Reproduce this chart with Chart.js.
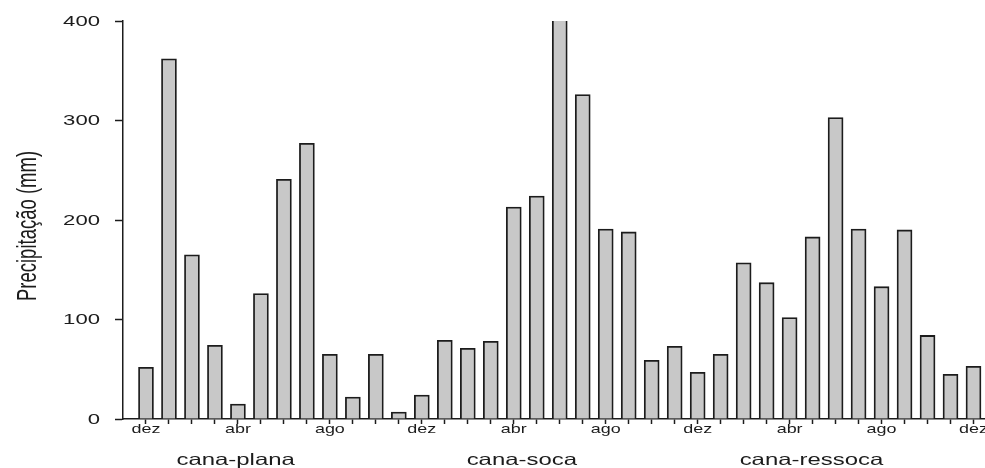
<!DOCTYPE html>
<html lang="pt">
<head>
<meta charset="UTF-8">
<title>Precipitação mensal</title>
<script src="https://cdn.jsdelivr.net/npm/chart.js"></script>
<style>
    html, body { margin: 0; padding: 0; background: #fff; }
    #wrap { width: 985px; height: 468px; position: relative; }
</style>
</head>
<body>
<div id="wrap">
    <canvas id="chart"></canvas>
</div>

<script>
    // monthly rainfall (mm), Dec to Dec over three seasons
    const months = [
        'dez', 'jan', 'fev', 'mar', 'abr', 'mai', 'jun', 'jul', 'ago', 'set', 'out', 'nov',
        'dez', 'jan', 'fev', 'mar', 'abr', 'mai', 'jun', 'jul', 'ago', 'set', 'out', 'nov',
        'dez', 'jan', 'fev', 'mar', 'abr', 'mai', 'jun', 'jul', 'ago', 'set', 'out', 'nov',
        'dez'
    ];
    const shownMonths = ['dez', 'abr', 'ago'];
    const precip = [
        52, 362, 165, 74, 15, 126, 241, 277, 65, 22, 65, 7,
        24, 79, 71, 78, 213, 224, 430, 326, 191, 188, 59, 73,
        47, 65, 157, 137, 102, 183, 303, 191, 133, 190, 84, 45,
        53
    ];
    const groups = ['cana-plana', 'cana-soca', 'cana-ressoca'];
    const yTitle = 'Precipitação (mm)';

    const ink = '#1c1c1c';
    const font = '"Liberation Sans", Arial, sans-serif';

    // the original figure is stretched sideways, so text is drawn with a horizontal scale
    function drawText(ctx, text, px, py, size, sx, align, baseline, rotate) {
        ctx.save();
        ctx.translate(px, py);
        if (rotate) {
            ctx.rotate(-Math.PI / 2);
            ctx.scale(1, sx);
        } else {
            ctx.scale(sx, 1);
        }
        ctx.font = size + 'px ' + font;
        ctx.textAlign = align;
        ctx.textBaseline = baseline;
        ctx.fillText(text, 0, 0);
        ctx.restore();
    }

    const stretchedLabels = {
        id: 'stretchedLabels',
        afterDraw(chart, args, opts) {
            const ctx = chart.ctx;
            const xs = chart.scales.x;
            const ys = chart.scales.y;
            ctx.save();
            ctx.fillStyle = ink;

            ys.ticks.forEach(t => {
                drawText(ctx, String(t.value), ys.right - 23, ys.getPixelForValue(t.value) + 1, 14, 1.58, 'right', 'middle');
            });

            months.forEach((m, i) => {
                if (shownMonths.includes(m)) {
                    drawText(ctx, m, xs.getPixelForValue(i), 433, 13, 1.38, 'center', 'alphabetic');
                }
            });

            groups.forEach((g, i) => {
                drawText(ctx, g, xs.getPixelForValue(opts.groupAt[i]), 465, 16.5, 1.45, 'center', 'alphabetic');
            });

            drawText(ctx, yTitle, 36, 226, 18.5, 1.5, 'center', 'alphabetic', true);
            ctx.restore();
        }
    };

    const ctx = document.getElementById('chart');

    new Chart(ctx, {
        type: 'bar',
        data: {
            datasets: [{
                data: precip.map((v, i) => ({x: i, y: v})),
                backgroundColor: '#c8c8c8',
                borderColor: ink,
                borderWidth: 1.8,
                barThickness: 15,
                clip: 0
            }]
        },
        options: {
            responsive: true,
            maintainAspectRatio: false,
            animation: false,
            layout: {
                padding: {left: 115, top: 21, right: 0, bottom: 44}
            },
            plugins: {
                legend: {display: false},
                tooltip: {enabled: false},
                stretchedLabels: {groupAt: [3.9, 16.35, 28.95]}
            },
            scales: {
                x: {
                    type: 'linear',
                    offset: false,
                    min: -1,
                    max: 36.5,
                    afterBuildTicks: s => {
                        s.ticks = months.map((m, i) => ({value: i}));
                    },
                    ticks: {display: false},
                    grid: {
                        offset: false,
                        drawOnChartArea: false,
                        drawTicks: true,
                        tickLength: 5,
                        tickWidth: 1.5,
                        tickColor: ink
                    },
                    border: {display: true, color: ink, width: 1.5}
                },
                y: {
                    min: 0,
                    max: 400,
                    ticks: {display: false, stepSize: 100},
                    grid: {
                        drawOnChartArea: false,
                        drawTicks: true,
                        tickLength: 8,
                        tickWidth: 1.5,
                        tickColor: ink
                    },
                    border: {display: true, color: ink, width: 1.5}
                }
            }
        },
        plugins: [stretchedLabels]
    });
</script>
</body>
</html>
